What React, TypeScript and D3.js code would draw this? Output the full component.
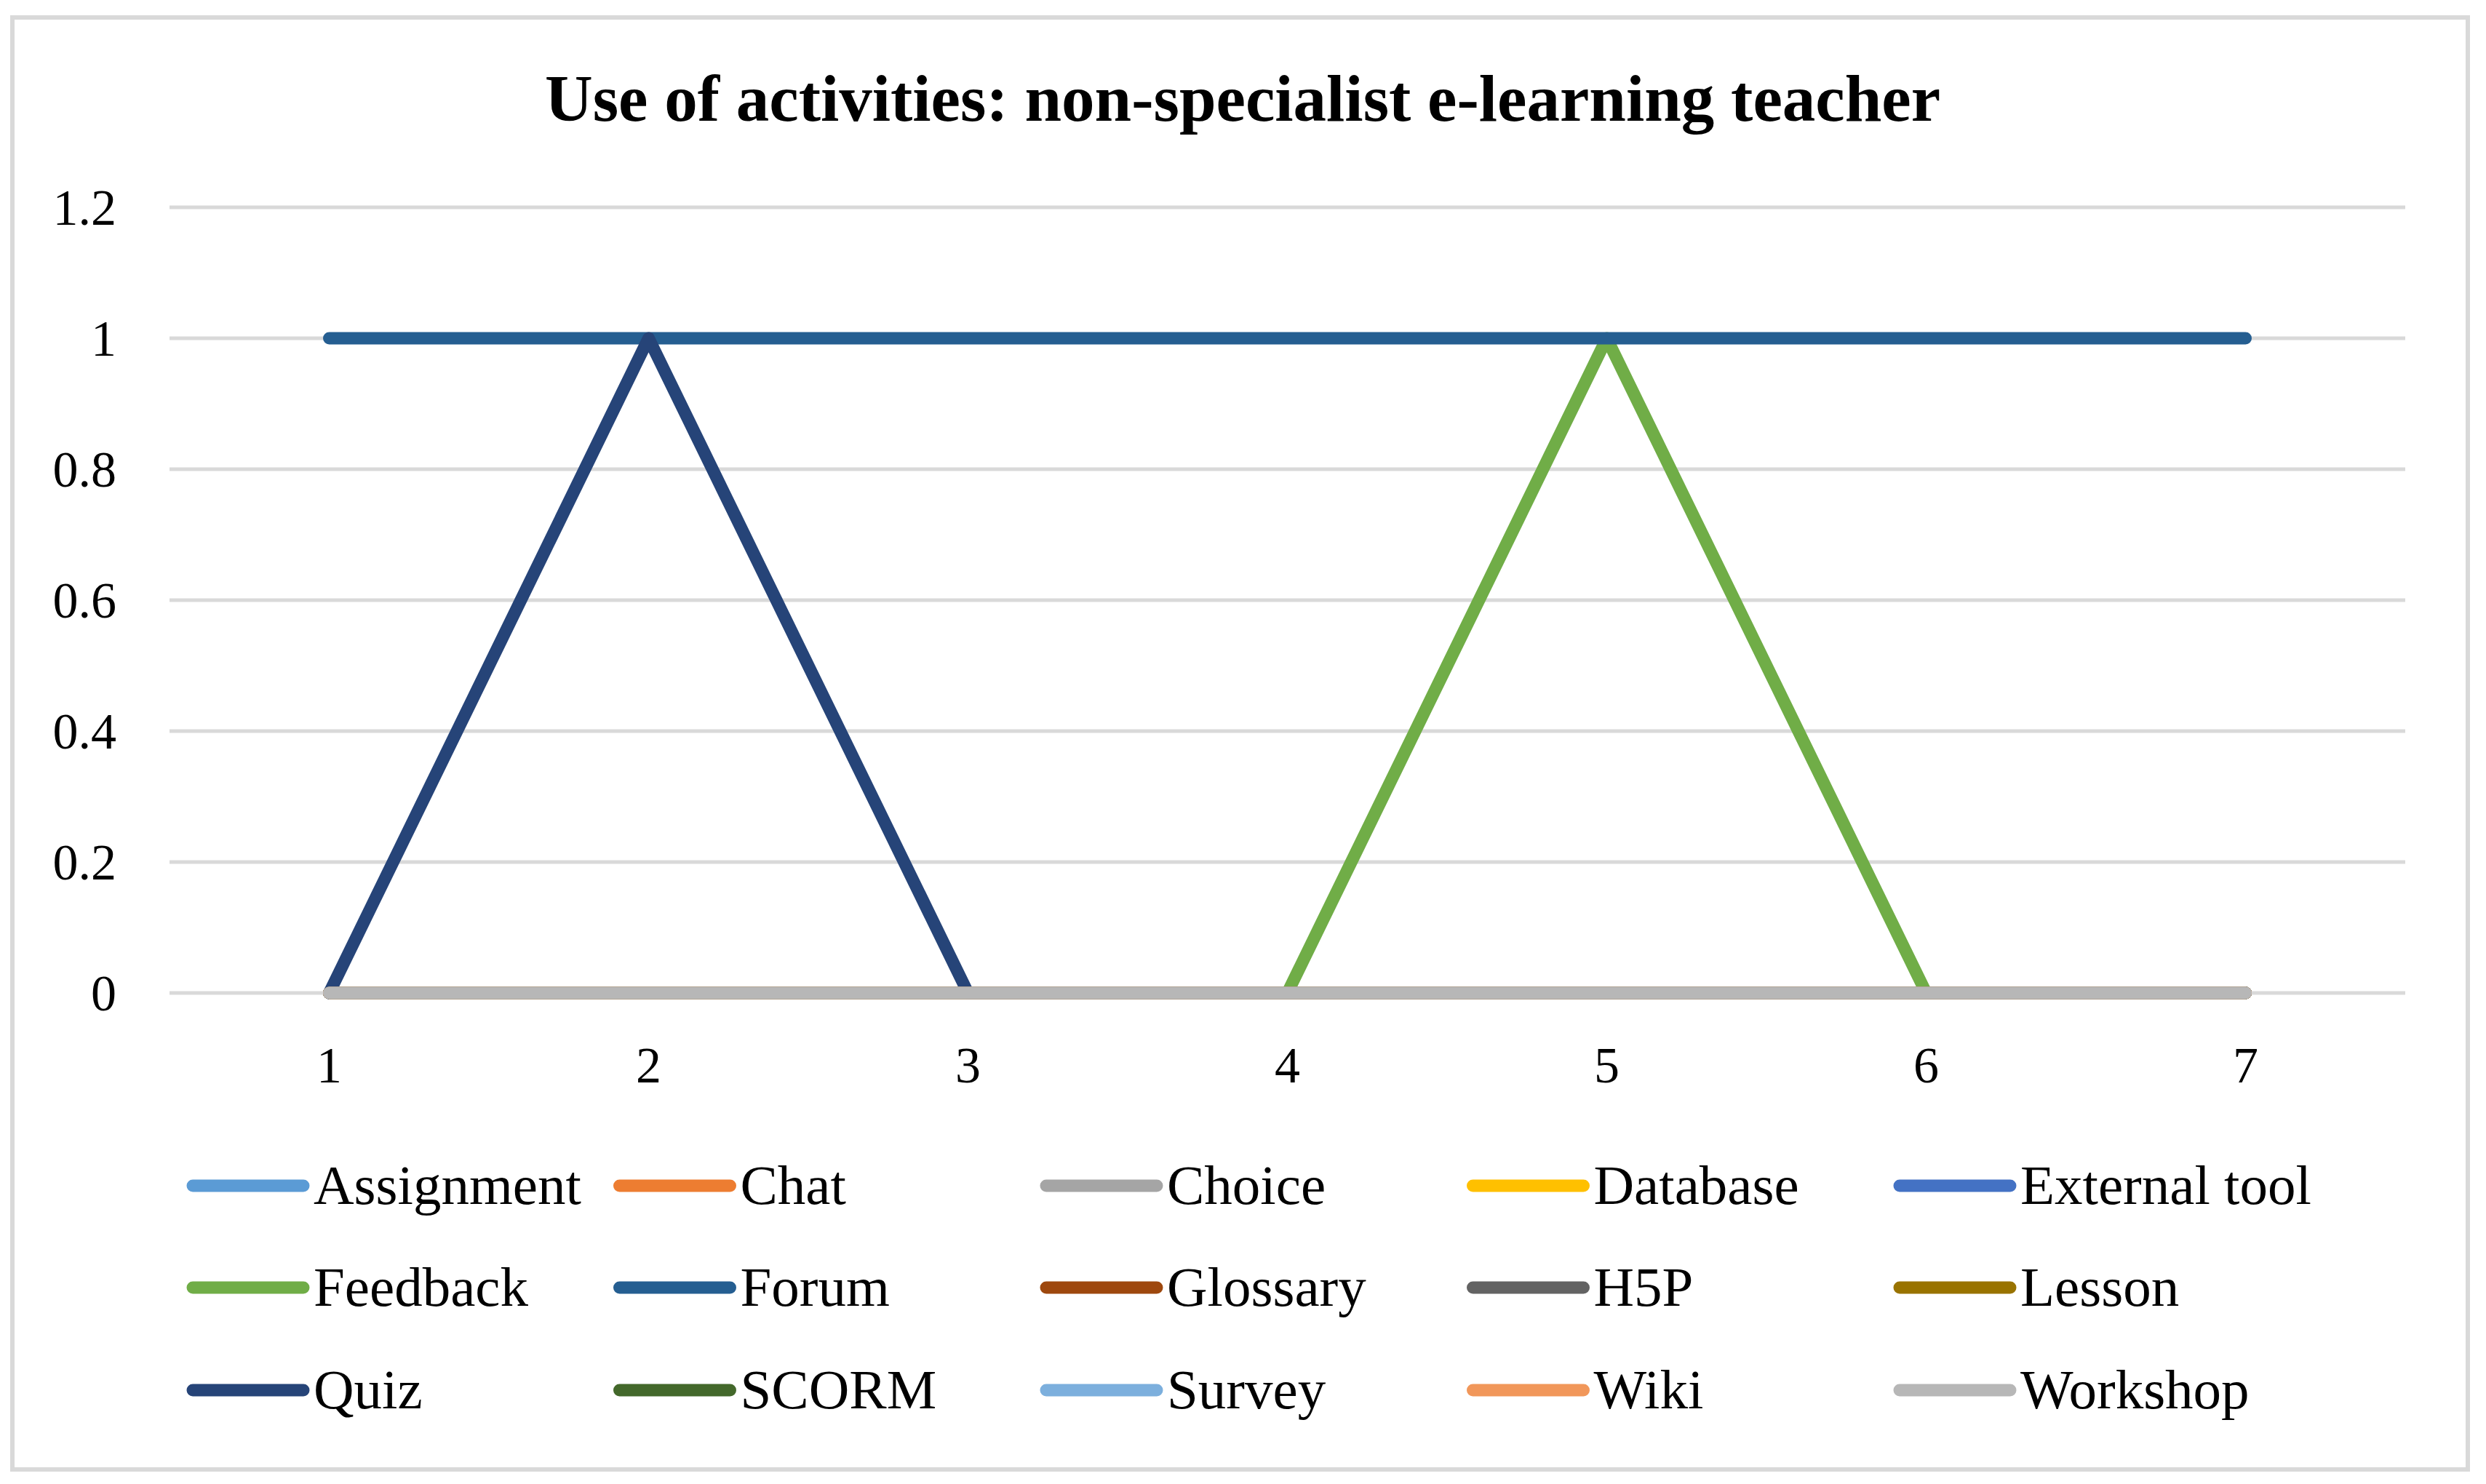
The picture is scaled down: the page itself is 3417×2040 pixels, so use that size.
import React, { useRef, useEffect } from "react";
import * as d3 from "d3";

const categories = ["1", "2", "3", "4", "5", "6", "7"];

const seriesNames = [
  "Assignment", "Chat", "Choice", "Database", "External tool",
  "Feedback", "Forum", "Glossary", "H5P", "Lesson",
  "Quiz", "SCORM", "Survey", "Wiki", "Workshop",
];

const seriesColors = [
  "#5B9BD5", "#ED7D31", "#A5A5A5", "#FFC000", "#4472C4",
  "#70AD47", "#255E91", "#9E480E", "#636363", "#997300",
  "#264478", "#43682B", "#7CAFDD", "#F1975A", "#B7B7B7",
];

const assignment = [0, 0, 0, 0, 0, 0, 0];
const chat = [0, 0, 0, 0, 0, 0, 0];
const choice = [0, 0, 0, 0, 0, 0, 0];
const database = [0, 0, 0, 0, 0, 0, 0];
const externalTool = [0, 0, 0, 0, 0, 0, 0];
const feedback = [0, 0, 0, 0, 1, 0, 0];
const forum = [1, 1, 1, 1, 1, 1, 1];
const glossary = [0, 0, 0, 0, 0, 0, 0];
const h5p = [0, 0, 0, 0, 0, 0, 0];
const lesson = [0, 0, 0, 0, 0, 0, 0];
const quiz = [0, 1, 0, 0, 0, 0, 0];
const scorm = [0, 0, 0, 0, 0, 0, 0];
const survey = [0, 0, 0, 0, 0, 0, 0];
const wiki = [0, 0, 0, 0, 0, 0, 0];
const workshop = [0, 0, 0, 0, 0, 0, 0];

const seriesValues = [
  assignment, chat, choice, database, externalTool,
  feedback, forum, glossary, h5p, lesson,
  quiz, scorm, survey, wiki, workshop,
];

const yTicks = [0, 0.2, 0.4, 0.6, 0.8, 1, 1.2];

const title = "Use of activities: non-specialist e-learning teacher";

function App() {
  const svgRef = useRef<SVGSVGElement>(null);

  useEffect(() => {
    const svg = d3.select(svgRef.current);
    svg.selectAll("*").remove();

    const W = 3417;
    const H = 2040;
    const font = "'Liberation Serif', 'Times New Roman', serif";

    // plot area
    const left = 233;
    const right = 3306;
    const top = 285;
    const bottom = 1365;

    const x = d3.scaleBand().domain(categories).range([left, right]);
    const y = d3.scaleLinear().domain([0, 1.2]).range([bottom, top]);

    svg.append("rect")
      .attr("width", W).attr("height", H).attr("fill", "#fff");

    // outer border
    svg.append("rect")
      .attr("x", 17).attr("y", 24)
      .attr("width", 3375).attr("height", 1996)
      .attr("fill", "none")
      .attr("stroke", "#D9D9D9")
      .attr("stroke-width", 6);

    // title
    svg.append("text")
      .attr("x", 1708)
      .attr("y", 166)
      .attr("text-anchor", "middle")
      .style("font-family", font)
      .style("font-weight", "bold")
      .style("font-size", "91px")
      .text(title);

    // gridlines + y labels
    svg.append("g")
      .selectAll("line")
      .data(yTicks)
      .enter()
      .append("line")
      .attr("x1", left).attr("x2", right)
      .attr("y1", (d) => y(d)).attr("y2", (d) => y(d))
      .attr("stroke", "#D9D9D9")
      .attr("stroke-width", 5);

    svg.append("g")
      .selectAll("text")
      .data(yTicks)
      .enter()
      .append("text")
      .attr("x", 160)
      .attr("y", (d) => y(d) + 24)
      .attr("text-anchor", "end")
      .style("font-family", font)
      .style("font-size", "70px")
      .text((d) => String(d));

    // x labels
    svg.append("g")
      .selectAll("text")
      .data(categories)
      .enter()
      .append("text")
      .attr("x", (d) => x(d)! + x.bandwidth() / 2)
      .attr("y", 1488)
      .attr("text-anchor", "middle")
      .style("font-family", font)
      .style("font-size", "70px")
      .text((d) => d);

    // series lines
    const line = d3.line<number>()
      .x((_, i) => x(categories[i])! + x.bandwidth() / 2)
      .y((d) => y(d));

    svg.append("g")
      .selectAll("path")
      .data(seriesValues)
      .enter()
      .append("path")
      .attr("d", (d) => line(d))
      .attr("fill", "none")
      .attr("stroke", (_, i) => seriesColors[i])
      .attr("stroke-width", 17)
      .attr("stroke-linecap", "round")
      .attr("stroke-linejoin", "round");

    // legend
    const colW = 586.5;
    const rowYs = [1630, 1770, 1911];
    const item = svg.append("g")
      .selectAll("g")
      .data(seriesNames)
      .enter()
      .append("g")
      .attr("transform", (_, i) => `translate(${257 + (i % 5) * colW},${rowYs[Math.floor(i / 5)]})`);

    item.append("line")
      .attr("x1", 8).attr("x2", 160)
      .attr("y1", 0).attr("y2", 0)
      .attr("stroke", (_, i) => seriesColors[i])
      .attr("stroke-width", 17)
      .attr("stroke-linecap", "round");

    item.append("text")
      .attr("x", 174)
      .attr("y", 25)
      .style("font-family", font)
      .style("font-size", "77px")
      .text((d) => d);
  }, []);

  return (
    <svg
      ref={svgRef}
      width={3417}
      height={2040}
      style={{ position: "absolute", left: 0, top: 0 }}
    />
  );
}

export default App;
